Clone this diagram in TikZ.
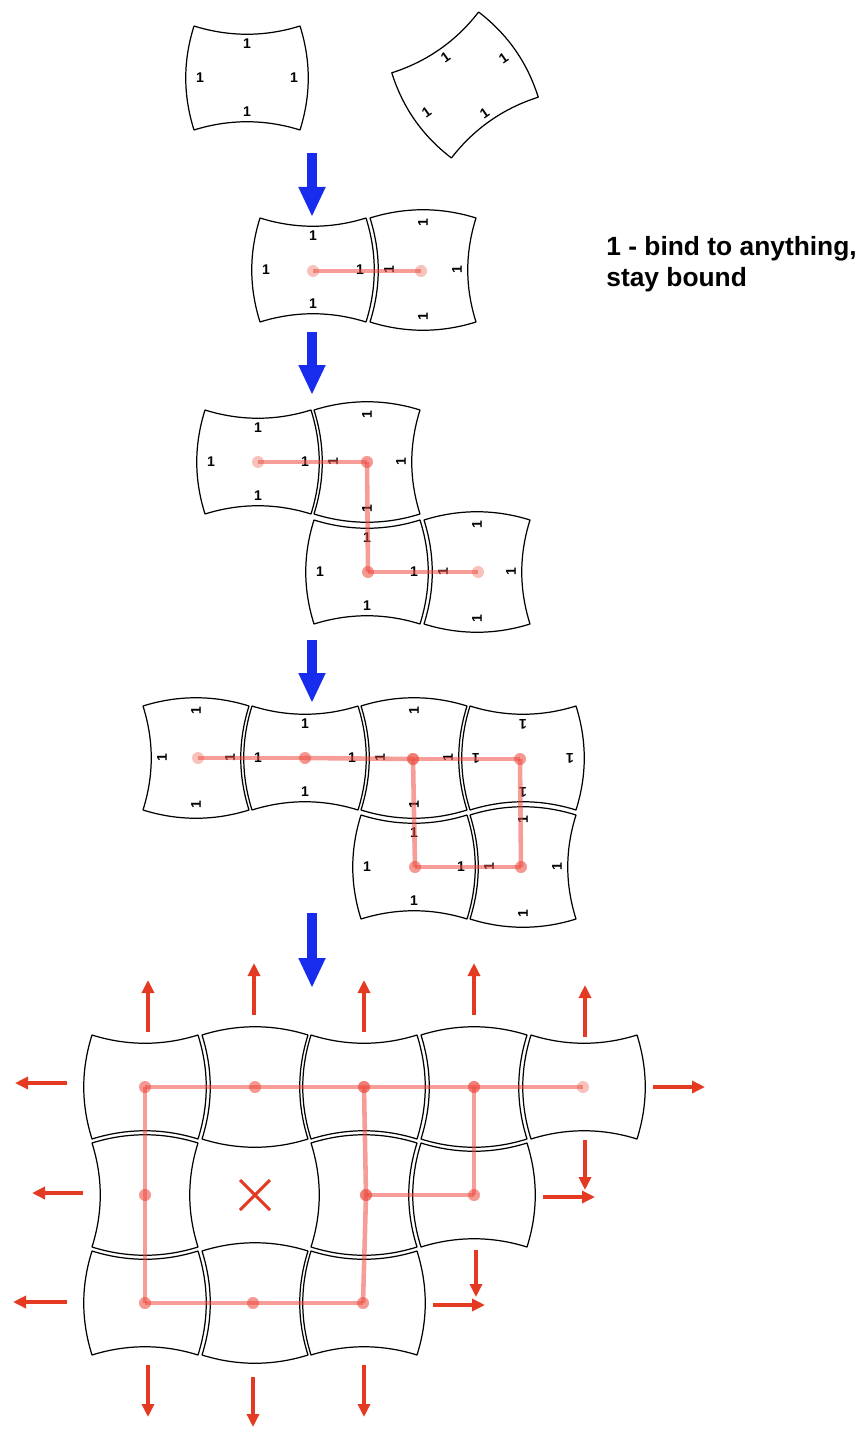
\documentclass[tikz,border=0pt]{standalone}
\usepackage{fontspec}
\setmainfont{Liberation Sans}
\usetikzlibrary{arrows.meta}
\definecolor{cFlow}{RGB}{24, 44, 238}
\definecolor{cGrow}{RGB}{228, 58, 34}
\definecolor{cBond}{RGB}{236, 76, 64}

\begin{document}
\begin{tikzpicture}[
    x=0.2mm, y=-0.2mm,
    font=\bfseries,
    edge/.style={line width=0.7pt, line join=round},
    one/.style={font=\fontsize{8}{8}\bfseries\selectfont, inner sep=0pt, transform shape},
    bond/.style={cBond, opacity=0.55, line width=2.6pt},
    dot/.style={cBond, opacity=0.35},
    nextstep/.style={cFlow, line width=2mm, -{Triangle[length=6mm, width=5mm]}},
    spread/.style={cGrow, line width=0.7mm, -{Triangle[length=2.6mm, width=2.4mm]}},
    miss/.style={cGrow, line width=0.6mm},
    % tile with concave top/bottom and bulging sides
    tile A/.pic={
        \draw[edge] (-53,-52) .. controls (-18,-41) and (18,-41) .. (53,-52)
            .. controls (64,-17) and (64,17) .. (53,52)
            .. controls (18,41) and (-18,41) .. (-53,52)
            .. controls (-64,17) and (-64,-17) .. cycle;
    },
    % the same tile turned a quarter
    tile B/.pic={
        \draw[edge] (-53,-52) .. controls (-18,-63) and (18,-63) .. (53,-52)
            .. controls (42,-17) and (42,17) .. (53,52)
            .. controls (18,63) and (-18,63) .. (-53,52)
            .. controls (-42,17) and (-42,-17) .. cycle;
    },
    ones/.pic={
        \node[one] (-n) at (0,-34) {1};
        \node[one] (-s) at (0,34) {1};
        \node[one] (-w) at (-47,0) {1};
        \node[one] (-e) at (47,0) {1};
    }
]

    \useasboundingbox (0,0) rectangle (867,1431);

    % ================= stage 1: two loose tiles =================
    \pic (s1a) at (247,78) {tile A};
    \pic (o1a) at (247,78) {ones};
    \pic[rotate=35] (s1b) at (465,85) {tile A};
    \pic[rotate=35] (o1b) at (465,85) {ones};

    \draw[nextstep] (312,153) -- (312,217);

    % ================= stage 2: a pair =================
    \pic (s2a) at (313,270) {tile A};
    \pic (o2a) at (313,270) {ones};
    \pic (s2b) at (423,270) {tile B};
    \pic[rotate=90] (o2b) at (423,270) {ones};

    \coordinate (p2a) at (313,271);
    \coordinate (p2b) at (421,271);
    \draw[bond] (p2a) -- (p2b);
    \fill[dot] (p2a) circle (6) (p2b) circle (6);

    \node[anchor=north west, align=left, inner sep=0pt,
          font=\fontsize{15}{17.5}\bfseries\selectfont] (key) at (606,236)
          {1 - bind to anything,\\stay bound};

    \draw[nextstep] (312,332) -- (312,395);

    % ================= stage 3: four tiles =================
    \pic (s3a) at (258,462) {tile A};
    \pic (o3a) at (258,462) {ones};
    \pic (s3b) at (367,462) {tile B};
    \pic[rotate=90] (o3b) at (367,462) {ones};
    \pic (s3c) at (367,572) {tile A};
    \pic (o3c) at (367,572) {ones};
    \pic (s3d) at (477,572) {tile B};
    \pic[rotate=90] (o3d) at (477,572) {ones};

    \coordinate (p3a) at (258,462);
    \coordinate (p3b) at (367,462);
    \coordinate (p3c) at (368,572);
    \coordinate (p3d) at (478,572);
    \draw[bond] (p3a) -- (p3b);
    \fill[dot] (p3a) circle (6) (p3b) circle (6);
    \draw[bond] (p3b) -- (p3c);
    \fill[dot] (p3b) circle (6) (p3c) circle (6);
    \draw[bond] (p3c) -- (p3d);
    \fill[dot] (p3c) circle (6) (p3d) circle (6);

    \draw[nextstep] (312,640) -- (312,703);

    % ================= stage 4: six tiles, first loop =================
    \pic (s4a) at (196,758) {tile B};
    \pic[rotate=90] (o4a) at (196,758) {ones};
    \pic (s4b) at (305,758) {tile A};
    \pic (o4b) at (305,758) {ones};
    \pic (s4c) at (414,758) {tile B};
    \pic[rotate=90] (o4c) at (414,758) {ones};
    \pic (s4d) at (523,758) {tile A};
    \pic[rotate=180] (o4d) at (523,758) {ones};
    \pic (s4e) at (414,867) {tile A};
    \pic (o4e) at (414,867) {ones};
    \pic (s4f) at (523,867) {tile B};
    \pic[rotate=90] (o4f) at (523,867) {ones};

    \coordinate (p4a) at (198,758);
    \coordinate (p4b) at (305,758);
    \coordinate (p4c) at (413,759);
    \coordinate (p4d) at (520,759);
    \coordinate (p4e) at (415,867);
    \coordinate (p4f) at (521,867);
    \draw[bond] (p4a) -- (p4b);
    \fill[dot] (p4a) circle (6) (p4b) circle (6);
    \draw[bond] (p4b) -- (p4c);
    \fill[dot] (p4b) circle (6) (p4c) circle (6);
    \draw[bond] (p4c) -- (p4d);
    \fill[dot] (p4c) circle (6) (p4d) circle (6);
    \draw[bond] (p4c) -- (p4e);
    \fill[dot] (p4c) circle (6) (p4e) circle (6);
    \draw[bond] (p4d) -- (p4f);
    \fill[dot] (p4d) circle (6) (p4f) circle (6);
    \draw[bond] (p4e) -- (p4f);
    \fill[dot] (p4e) circle (6) (p4f) circle (6);

    \draw[nextstep] (312,913) -- (312,988);

    % ================= stage 5: grown sheet with a hole =================
    % row 1
    \pic (g11) at (145,1087) {tile A};
    \pic (g12) at (255,1087) {tile B};
    \pic (g13) at (364,1087) {tile A};
    \pic (g14) at (474,1087) {tile B};
    \pic (g15) at (584,1087) {tile A};
    % row 2
    \pic (g21) at (145,1195) {tile B};
    \pic (g23) at (364,1195) {tile B};
    \pic (g24) at (474,1195) {tile A};
    % row 3
    \pic (g31) at (145,1303) {tile A};
    \pic (g32) at (255,1303) {tile B};
    \pic (g33) at (364,1303) {tile A};

    \coordinate (q11) at (145,1087);
    \coordinate (q12) at (255,1087);
    \coordinate (q13) at (364,1087);
    \coordinate (q14) at (474,1087);
    \coordinate (q15) at (583,1087);
    \coordinate (q21) at (145,1195);
    \coordinate (q23) at (366,1195);
    \coordinate (q24) at (474,1195);
    \coordinate (q31) at (145,1303);
    \coordinate (q32) at (253,1303);
    \coordinate (q33) at (363,1303);

    \draw[bond] (q11) -- (q12);
    \fill[dot] (q11) circle (6) (q12) circle (6);
    \draw[bond] (q12) -- (q13);
    \fill[dot] (q12) circle (6) (q13) circle (6);
    \draw[bond] (q13) -- (q14);
    \fill[dot] (q13) circle (6) (q14) circle (6);
    \draw[bond] (q14) -- (q15);
    \fill[dot] (q14) circle (6) (q15) circle (6);
    \draw[bond] (q11) -- (q21);
    \fill[dot] (q11) circle (6) (q21) circle (6);
    \draw[bond] (q21) -- (q31);
    \fill[dot] (q21) circle (6) (q31) circle (6);
    \draw[bond] (q31) -- (q32);
    \fill[dot] (q31) circle (6) (q32) circle (6);
    \draw[bond] (q32) -- (q33);
    \fill[dot] (q32) circle (6) (q33) circle (6);
    \draw[bond] (q13) -- (q23);
    \fill[dot] (q13) circle (6) (q23) circle (6);
    \draw[bond] (q23) -- (q33);
    \fill[dot] (q23) circle (6) (q33) circle (6);
    \draw[bond] (q23) -- (q24);
    \fill[dot] (q23) circle (6) (q24) circle (6);
    \draw[bond] (q14) -- (q24);
    \fill[dot] (q14) circle (6) (q24) circle (6);

    % the missing tile
    \coordinate (hole) at (255,1195);
    \draw[miss] (hole) ++(-15,-15) -- ++(30,30) (hole) ++(-15,15) -- ++(30,-30);

    % growth at the free edges
    \draw[spread] (148,1032) -- (148,980);
    \draw[spread] (254,1015) -- (254,963);
    \draw[spread] (364,1032) -- (364,980);
    \draw[spread] (474,1015) -- (474,963);
    \draw[spread] (585,1037) -- (585,985);

    \draw[spread] (67,1083) -- (15,1083);
    \draw[spread] (83,1193) -- (32,1193);
    \draw[spread] (67,1302) -- (13,1302);

    \draw[spread] (653,1087) -- (705,1087);
    \draw[spread] (543,1197) -- (595,1197);
    \draw[spread] (433,1305) -- (485,1305);

    \draw[spread] (585,1140) -- (585,1190);
    \draw[spread] (476,1250) -- (476,1297);
    \draw[spread] (148,1365) -- (148,1417);
    \draw[spread] (253,1377) -- (253,1427);
    \draw[spread] (364,1365) -- (364,1417);

\end{tikzpicture}
\end{document}
